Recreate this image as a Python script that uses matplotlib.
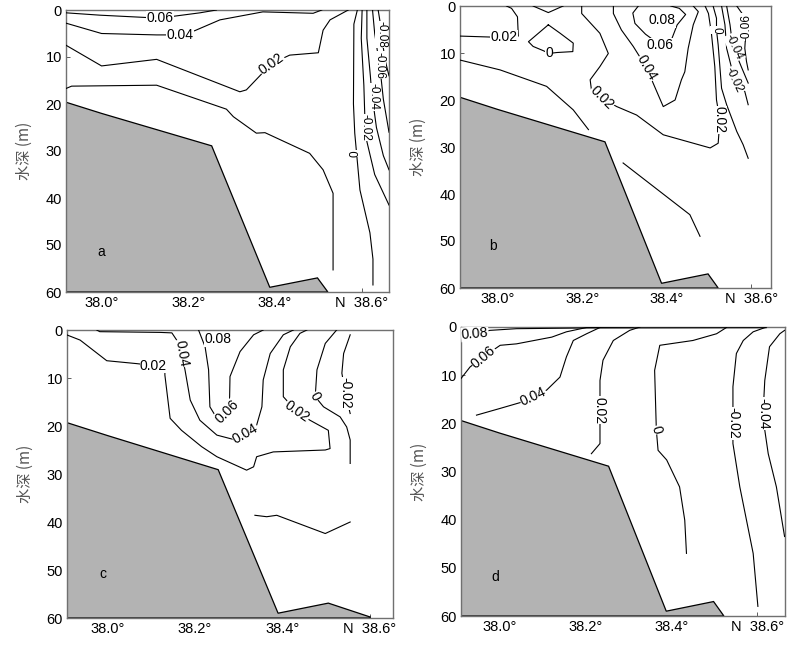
import matplotlib
matplotlib.use('Agg')
import matplotlib.pyplot as plt
from matplotlib.patches import Polygon

# ---- data: (latitude, depth) pairs ----

# sea floor (grey area)
TERRAIN = [(37.90, 19.1), (38.0, 22.0), (38.254, 28.9), (38.388, 59.0), (38.498, 57.0), (38.522, 60.0)]
TERRAIN_C = [(37.90, 19.1), (38.0, 22.0), (38.253, 29.1), (38.390, 59.0), (38.505, 56.9), (38.601, 59.8)]

# panel a contours
A_C006 = [(37.918, 0.6), (37.996, 1.1), (38.104, 1.6), (38.134, 1.8), (38.169, 1.3), (38.227, 0.6), (38.265, 0.0)]
A_C004 = [(37.918, 2.8), (38.0, 5.0), (38.127, 5.3), (38.181, 5.3), (38.215, 4.4), (38.273, 2.1),
          (38.372, 0.4), (38.488, 0.7), (38.508, 0.0)]
A_C002 = [(37.918, 7.5), (38.0, 11.9), (38.127, 10.5), (38.319, 17.4), (38.334, 17.0), (38.392, 11.4),
          (38.434, 9.6), (38.5, 9.1), (38.511, 4.3), (38.527, 2.1), (38.569, 0.0)]
A_C001 = [(37.918, 16.7), (37.931, 16.2), (38.127, 16.0), (38.288, 21.1), (38.304, 22.7), (38.357, 26.2),
          (38.377, 26.1), (38.48, 30.5), (38.511, 34.0), (38.534, 39.0), (38.534, 55.3)]
A_C000 = [(38.590, 0.0), (38.582, 3.0), (38.581, 20.0), (38.584, 26.2), (38.596, 38.3), (38.619, 47.4),
          (38.626, 53.0), (38.626, 58.5)]
A_CM002 = [(38.601, 0.0), (38.599, 6.0), (38.605, 16.0), (38.607, 22.0), (38.612, 28.0), (38.630, 35.0), (38.663, 41.5)]
A_CM004 = [(38.612, 0.0), (38.612, 6.0), (38.620, 14.0), (38.623, 17.5), (38.634, 25.0), (38.650, 31.0), (38.663, 34.0)]
A_CM006 = [(38.625, 0.0), (38.630, 5.0), (38.640, 11.0), (38.643, 13.0), (38.650, 19.0), (38.663, 26.0)]
A_CM008 = [(38.638, 0.0), (38.645, 4.0), (38.648, 7.0), (38.655, 11.0), (38.663, 14.0)]
A_LABELS = [("0.06", 38.134, 1.8, 0), ("0.04", 38.181, 5.3, 0), ("0.02", 38.392, 11.4, 35)]
# the crowded labels on the right edge get a smaller size
A_LABELS_SMALL = [("0", 38.585, 30.5, 90), ("-0.02", 38.609, 25.0, -90), ("-0.04", 38.628, 18.5, -90),
                  ("-0.06", 38.641, 11.8, -90), ("-0.08", 38.646, 5.2, -90)]

# panel b contours
B_C002L = [(37.911, 6.4), (38.016, 6.7), (38.049, 6.4), (38.047, 2.3), (38.033, 0.5), (38.021, 0.0)]
B_TOPDIP = [(38.084, 0.0), (38.120, 1.4), (38.155, 0.0)]
B_C000LOOP = [(38.120, 4.0), (38.073, 7.6), (38.084, 8.6), (38.108, 9.5), (38.122, 10.1), (38.140, 9.9),
              (38.178, 9.7), (38.179, 7.9), (38.148, 5.8), (38.120, 4.0)]
B_C001 = [(37.911, 11.5), (38.006, 13.6), (38.116, 17.1), (38.179, 22.1), (38.215, 26.3)]
B_C002 = [(38.199, 0.0), (38.199, 1.6), (38.242, 5.8), (38.262, 10.1), (38.242, 12.9), (38.219, 15.7),
          (38.222, 17.8), (38.246, 19.6), (38.282, 21.4), (38.329, 23.2), (38.392, 27.4), (38.503, 30.2),
          (38.522, 29.2), (38.526, 24.2), (38.518, 20.0), (38.514, 12.9), (38.506, 5.8), (38.499, 1.6), (38.491, 0.0)]
B_C004 = [(38.274, 0.0), (38.274, 1.6), (38.293, 5.1), (38.321, 8.6), (38.353, 13.2), (38.368, 16.4),
          (38.392, 21.4), (38.420, 20.0), (38.435, 15.7), (38.443, 14.0), (38.451, 9.0), (38.463, 4.0),
          (38.475, 1.2), (38.463, 0.0)]
B_C006 = [(38.333, 0.0), (38.320, 1.5), (38.325, 3.7), (38.350, 6.0), (38.385, 8.3), (38.410, 7.5),
          (38.425, 4.0), (38.445, 1.8), (38.430, 0.5), (38.410, 0.0)]
B_C000 = [(38.510, 0.0), (38.518, 2.6), (38.518, 5.1), (38.522, 8.3), (38.530, 17.5), (38.542, 21.0),
          (38.566, 26.7), (38.581, 29.5), (38.593, 32.4)]
B_CM002 = [(38.530, 0.0), (38.538, 4.0), (38.542, 9.0), (38.558, 14.7), (38.585, 18.2), (38.593, 21.0)]
B_CM004 = [(38.542, 0.0), (38.550, 4.0), (38.554, 6.9), (38.562, 9.7), (38.578, 13.2), (38.593, 16.4)]
B_CM006 = [(38.566, 0.0), (38.581, 1.9), (38.588, 4.7), (38.585, 9.0), (38.589, 11.8), (38.593, 13.6)]
B_DEEP = [(38.297, 33.4), (38.455, 44.4), (38.479, 49.0)]
B_LABELS = [("0.02", 38.016, 6.7, 0), ("0", 38.122, 10.1, 0), ("0.02", 38.246, 19.6, -45),
            ("0.04", 38.353, 13.2, -60), ("0.08", 38.39, 3.0, 0), ("0.06", 38.385, 8.3, 0),
            ("0.02", 38.526, 24.2, -90)]
B_LABELS_SMALL = [("0", 38.518, 5.1, -90), ("-0.02", 38.560, 15.8, -65),
                  ("-0.04", 38.560, 8.8, -65), ("-0.06", 38.588, 4.5, 90)]

# panel c contours
C_C002 = [(37.906, 1.0), (37.937, 2.1), (37.998, 6.4), (38.066, 7.0), (38.105, 7.4), (38.131, 7.6),
          (38.131, 9.4), (38.143, 18.4), (38.169, 20.9), (38.215, 24.3), (38.250, 26.4), (38.318, 29.2),
          (38.334, 28.5), (38.341, 26.4), (38.379, 25.4), (38.498, 25.0), (38.509, 24.7), (38.505, 20.9),
          (38.463, 18.8), (38.433, 17.0), (38.402, 13.9), (38.402, 8.3), (38.418, 3.5), (38.440, 0.7), (38.456, 0.0)]
C_C004 = [(37.975, 0.0), (37.982, 0.35), (38.120, 0.5), (38.147, 0.6), (38.158, 2.1), (38.169, 4.9),
          (38.177, 8.3), (38.189, 14.6), (38.211, 18.8), (38.250, 21.9), (38.288, 22.8), (38.315, 21.6),
          (38.341, 19.8), (38.353, 16.0), (38.356, 10.4), (38.372, 4.9), (38.402, 1.0), (38.425, 0.0)]
C_C006 = [(38.208, 0.0), (38.223, 3.5), (38.231, 8.3), (38.234, 16.0), (38.250, 18.4), (38.273, 17.0),
          (38.279, 14.6), (38.280, 9.7), (38.303, 4.5), (38.334, 1.0), (38.356, 0.0)]
C_C000 = [(38.524, 0.0), (38.498, 2.8), (38.479, 8.3), (38.475, 13.9), (38.494, 16.0), (38.532, 18.1),
          (38.547, 20.2), (38.555, 22.9), (38.555, 27.8)]
C_CM002 = [(38.555, 1.0), (38.540, 4.9), (38.536, 9.0), (38.544, 13.2), (38.555, 17.4)]
C_DEEP = [(38.337, 38.6), (38.364, 38.9), (38.387, 38.6), (38.498, 42.4), (38.555, 40.0)]
C_LABELS = [("0.02", 38.105, 7.4, 0), ("0.04", 38.169, 4.9, -80), ("0.08", 38.253, 1.9, 0),
            ("0.06", 38.273, 17.0, 45), ("0.04", 38.315, 21.6, 30), ("0.02", 38.433, 17.0, -35),
            ("0", 38.475, 13.9, -60), ("-0.02", 38.544, 13.2, -90)]

# panel d contours
D_C008 = [(37.911, 1.7), (37.943, 1.4), (37.978, 0.7), (38.040, 0.35), (38.20, 0.2), (38.62, 0.15)]
D_C006 = [(37.911, 10.7), (37.932, 8.3), (37.963, 6.2), (38.002, 3.8), (38.040, 3.5), (38.122, 2.1),
          (38.156, 1.0), (38.203, 0.1), (38.311, 0.0)]
D_C004 = [(37.947, 18.3), (38.002, 16.9), (38.056, 15.5), (38.079, 14.5), (38.110, 13.1), (38.141, 10.4),
          (38.156, 6.2), (38.172, 2.8), (38.203, 1.4), (38.234, 0.1)]
D_C002 = [(38.214, 26.3), (38.234, 24.2), (38.234, 18.7), (38.234, 17.3), (38.234, 11.1), (38.241, 6.9),
          (38.265, 2.8), (38.303, 0.7), (38.327, 0.0)]
D_C000 = [(38.435, 47.0), (38.431, 40.1), (38.419, 33.2), (38.389, 27.6), (38.369, 25.6), (38.365, 21.4),
          (38.361, 9.0), (38.373, 3.8), (38.450, 2.8), (38.505, 1.4), (38.528, 0.1)]
D_CM002 = [(38.601, 58.0), (38.590, 47.0), (38.559, 33.2), (38.543, 24.2), (38.543, 20.0), (38.543, 12.4),
           (38.551, 5.5), (38.567, 2.8), (38.590, 1.0), (38.621, 0.0)]
D_CM004 = [(38.663, 43.5), (38.644, 33.2), (38.625, 26.3), (38.617, 21.4), (38.613, 18.0), (38.617, 11.1),
           (38.628, 4.1), (38.652, 1.4), (38.663, 0.7)]
D_LABELS = [("0.08", 37.943, 1.4, 5), ("0.06", 37.963, 6.2, 40), ("0.04", 38.079, 14.5, 25),
            ("0.02", 38.234, 17.3, -90), ("0", 38.365, 21.4, -75), ("-0.02", 38.543, 20.0, -90),
            ("-0.04", 38.613, 18.0, -90)]

X_TICKS = [38.0, 38.2, 38.4, 38.6]
X_TICKLABELS = ['38.0°', '38.2°', '38.4°', 'N  38.6°']
Y_TICKS = [0, 10, 20, 30, 40, 50, 60]


W, H = 799, 646
fig = plt.figure(figsize=(W / 100, H / 100), dpi=100)
plt.rcParams['font.family'] = ['Liberation Sans', 'DejaVu Sans']


def make_axes(left, right, top, bottom, xlim):
    # pixel box -> figure fraction
    ax = fig.add_axes([left / W, 1 - bottom / H, (right - left) / W, (bottom - top) / H])
    ax.set_xlim(*xlim)
    ax.set_ylim(60, 0)
    ax.set_xticks(X_TICKS)
    ax.set_xticklabels(X_TICKLABELS, fontsize=10.5)
    ax.set_yticks(Y_TICKS)
    ax.set_yticklabels([str(v) for v in Y_TICKS], fontsize=10.5)
    ax.tick_params(direction='in', length=3, width=0.6, color='#444444', pad=3)
    for s in ax.spines.values():
        s.set_color('#707070')
        s.set_linewidth(1.0)
    ax.set_ylabel('水深 (m)', fontsize=11, color='#555555', labelpad=9,
                  family=['Noto Sans CJK SC', 'DejaVu Sans'])
    return ax


def draw_terrain(ax, pts):
    poly = pts + [(pts[-1][0], 60.0), (pts[0][0], 60.0)]
    ax.add_patch(Polygon(poly, closed=True, facecolor='#b3b3b3', edgecolor='black', linewidth=0.9, zorder=2))


def draw_lines(ax, lines):
    for ln in lines:
        xs = [p[0] for p in ln]
        ys = [p[1] for p in ln]
        ax.plot(xs, ys, color='black', linewidth=0.8, zorder=3)


def draw_labels(ax, labels, size=10):
    for txt, x, y, rot in labels:
        ax.text(x, y, txt, rotation=rot, ha='center', va='center', fontsize=size, zorder=4,
                rotation_mode='anchor', clip_on=True,
                bbox=dict(facecolor='white', edgecolor='none', pad=0.3))


# panel a
ax_a = make_axes(66, 389, 10, 292, (37.918, 38.663))
draw_terrain(ax_a, TERRAIN)
draw_lines(ax_a, [A_C006, A_C004, A_C002, A_C001, A_C000, A_CM002, A_CM004, A_CM006, A_CM008])
draw_labels(ax_a, A_LABELS)
draw_labels(ax_a, A_LABELS_SMALL, size=8.5)
ax_a.text(38.0, 51.5, 'a', ha='center', va='center', fontsize=10, zorder=5)

# panel b
ax_b = make_axes(460, 771, 6, 288, (37.911, 38.647))
draw_terrain(ax_b, TERRAIN)
draw_lines(ax_b, [B_C002L, B_TOPDIP, B_C000LOOP, B_C001, B_C002, B_C004, B_C006, B_C000,
                  B_CM002, B_CM004, B_CM006, B_DEEP])
draw_labels(ax_b, B_LABELS)
draw_labels(ax_b, B_LABELS_SMALL, size=8.5)
ax_b.text(37.99, 51.0, 'b', ha='center', va='center', fontsize=10, zorder=5)

# panel c
ax_c = make_axes(67, 393, 330, 618, (37.907, 38.653))
draw_terrain(ax_c, TERRAIN_C)
draw_lines(ax_c, [C_C002, C_C004, C_C006, C_C000, C_CM002, C_DEEP])
draw_labels(ax_c, C_LABELS)
ax_c.text(37.99, 50.8, 'c', ha='center', va='center', fontsize=10, zorder=5)

# panel d
ax_d = make_axes(461, 785, 327, 616, (37.911, 38.664))
draw_terrain(ax_d, TERRAIN)
draw_lines(ax_d, [D_C008, D_C006, D_C004, D_C002, D_C000, D_CM002, D_CM004])
draw_labels(ax_d, D_LABELS)
ax_d.text(37.99, 51.8, 'd', ha='center', va='center', fontsize=10, zorder=5)

fig.savefig('out.png', dpi=100)
